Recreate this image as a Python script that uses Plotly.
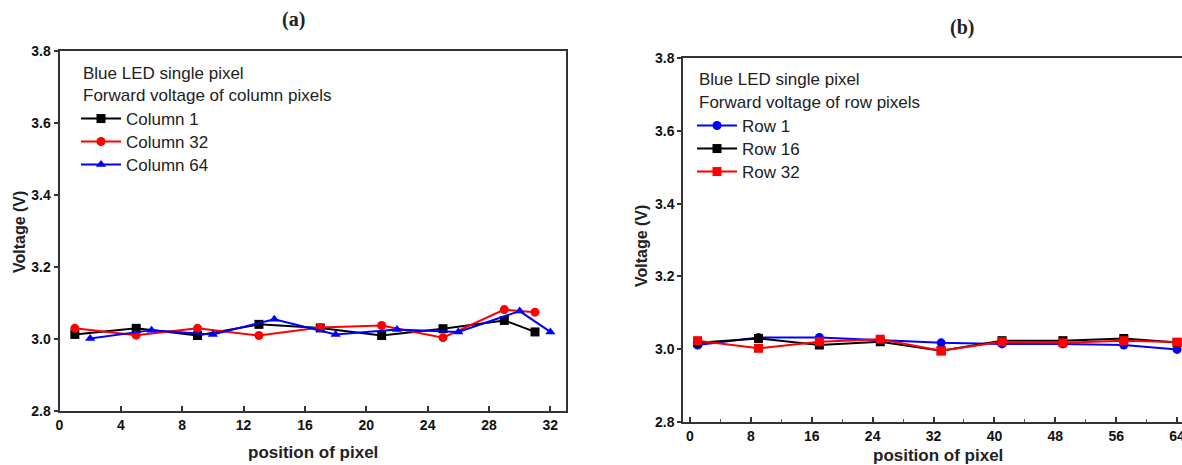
import plotly.graph_objects as go

W, H = 1182, 465

# ---- Panel (a): column pixels ----
col_x1 = [1, 5, 9, 13, 17, 21, 25, 29, 31]
col1_v = [3.012, 3.029, 3.009, 3.040, 3.030, 3.009, 3.028, 3.051, 3.019]
col_x32 = [1, 5, 9, 13, 17, 21, 25, 29, 31]
col32_v = [3.029, 3.010, 3.029, 3.009, 3.031, 3.037, 3.003, 3.081, 3.074]
col_x64 = [2, 6, 10, 14, 18, 22, 26, 30, 32]
col64_v = [3.001, 3.024, 3.012, 3.054, 3.012, 3.026, 3.019, 3.077, 3.019]

# ---- Panel (b): row pixels ----
row_x = [1, 9, 17, 25, 33, 41, 49, 57, 64]
row1_v = [3.011, 3.032, 3.032, 3.025, 3.017, 3.014, 3.014, 3.011, 2.999]
row16_v = [3.017, 3.029, 3.011, 3.020, 2.995, 3.023, 3.023, 3.029, 3.018]
row32_v = [3.023, 3.002, 3.020, 3.027, 2.995, 3.020, 3.017, 3.023, 3.019]

xa_ticks = [0, 4, 8, 12, 16, 20, 24, 28, 32]
xb_ticks = [0, 8, 16, 24, 32, 40, 48, 56, 64]
y_ticks = [2.8, 3.0, 3.2, 3.4, 3.6, 3.8]

BLACK, RED, BLUE = "#000000", "#ff0000", "#0000ff"
TXT = "#222222"
LEG_FONT = dict(family="Liberation Sans, Arial", size=17, color=TXT)

fig = go.Figure()
legends = {}

def add(x, y, name, color, symbol, xa, ya, legend, lx, ly):
    fig.add_trace(go.Scatter(
        x=x, y=y, name=name, mode="lines+markers",
        line=dict(color=color, width=2),
        marker=dict(color=color, symbol=symbol, size=9),
        xaxis=xa, yaxis=ya, legend=legend,
        cliponaxis=False,
    ))
    legends[legend] = dict(x=lx / W, y=1 - ly / H, xanchor="left", yanchor="middle",
                           bgcolor="rgba(0,0,0,0)", font=LEG_FONT, itemwidth=40)

add(col_x1, col1_v, "Column 1", BLACK, "square", "x", "y", "legend", 76, 119)
add(col_x32, col32_v, "Column 32", RED, "circle", "x", "y", "legend2", 76, 142)
add(col_x64, col64_v, "Column 64", BLUE, "triangle-up", "x", "y", "legend3", 76, 165)

add(row_x, row1_v, "Row 1", BLUE, "circle", "x2", "y2", "legend4", 692, 126)
add(row_x, row16_v, "Row 16", BLACK, "square", "x2", "y2", "legend5", 692, 149)
add(row_x, row32_v, "Row 32", RED, "square", "x2", "y2", "legend6", 692, 172)

tickfont = dict(family="Liberation Sans, Arial", size=14, color="#111111", weight="bold")

def xaxis(domain, rng, ticks, minor):
    d = dict(domain=domain, range=rng, tickvals=ticks, ticktext=[str(t) for t in ticks],
             showline=True, linecolor="#333333", linewidth=2, mirror=True,
             ticks="inside", ticklen=5, tickwidth=1.5, tickcolor="#333333",
             showgrid=False, zeroline=False, tickfont=tickfont,
             automargin=False, ticklabeloverflow="allow")
    if minor:
        d["minor"] = dict(dtick=4, tick0=0, ticks="inside", ticklen=3,
                          tickwidth=1, tickcolor="#555555")
    return d

def yaxis(domain, mirror):
    return dict(domain=domain, range=[2.8, 3.8], tickvals=y_ticks,
                ticktext=[f"{v:.1f}" for v in y_ticks],
                showline=True, linecolor="#333333", linewidth=2, mirror=mirror,
                ticks="outside", ticklen=4, tickwidth=1.5, tickcolor="#333333",
                showgrid=False, zeroline=False, tickfont=tickfont,
                automargin=False, ticklabeloverflow="allow")

fig.update_layout(
    width=W, height=H,
    margin=dict(l=0, r=0, t=0, b=0, autoexpand=False),
    paper_bgcolor="white", plot_bgcolor="white",
    xaxis=xaxis([59.5 / W, 565.7 / W], [0, 33], xa_ticks, False),
    yaxis=dict(yaxis([1 - 410.7 / H, 1 - 51 / H], True), anchor="x"),
    xaxis2=dict(xaxis([683.3 / W, 1.0], [-0.88, 64.65], xb_ticks, True), anchor="y2"),
    yaxis2=dict(yaxis([1 - 421.7 / H, 1 - 58.3 / H], False), anchor="x2"),
    showlegend=True,
    **legends,
)

ann = []
def text(x, y, s, size=17, family="Liberation Sans, Arial", angle=0, xanchor="center"):
    ann.append(dict(x=x / W, y=1 - y / H, xref="paper", yref="paper", text=s,
                    showarrow=False, xanchor=xanchor, yanchor="middle", textangle=angle,
                    font=dict(family=family, size=size, color=TXT)))

text(293, 20, "<b>(a)</b>", size=20, family="Liberation Serif, Times New Roman")
text(962, 27, "<b>(b)</b>", size=20, family="Liberation Serif, Times New Roman")
text(81, 73, "Blue LED single pixel", xanchor="left")
text(81, 96, "Forward voltage of column pixels", xanchor="left")
text(697, 79, "Blue LED single pixel", xanchor="left")
text(697, 103, "Forward voltage of row pixels", xanchor="left")
text(19, 232, "<b>Voltage (V)</b>", size=16, angle=-90)
text(641, 246, "<b>Voltage (V)</b>", size=16, angle=-90)
text(313, 452, "<b>position of pixel</b>", size=17)
text(938, 455, "<b>position of pixel</b>", size=17)
fig.update_layout(annotations=ann)

fig.write_html("out.html", config={"displayModeBar": False},
               post_script="document.body.style.margin='0';document.body.style.overflow='hidden';")
